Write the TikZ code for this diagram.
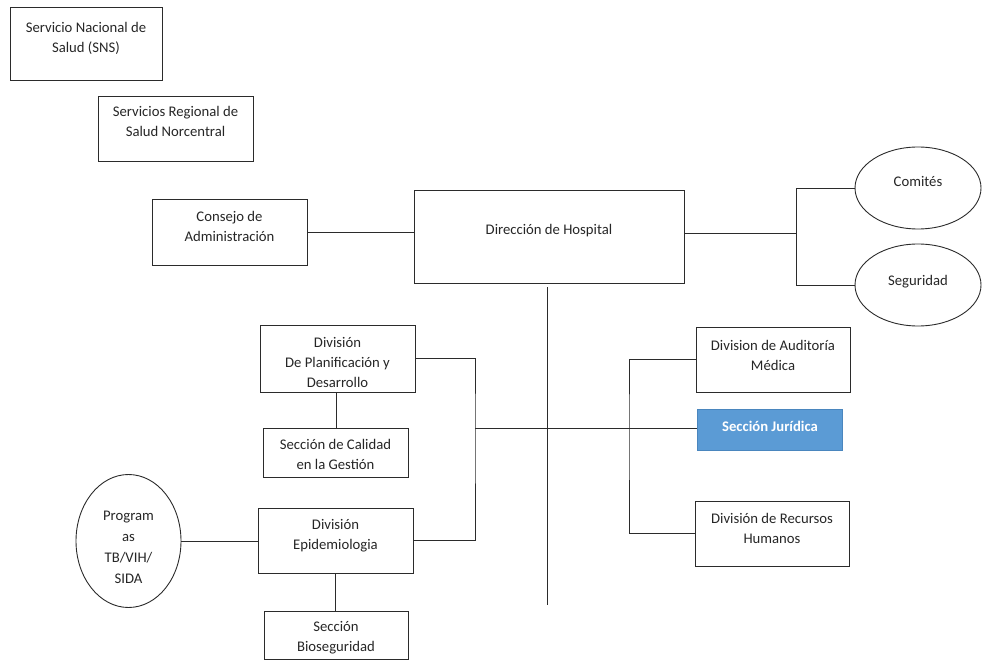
\documentclass[tikz,border=0pt]{standalone}
\usepackage{fontspec}
\setmainfont{Carlito}
\usetikzlibrary{shapes.geometric}
\definecolor{jurfill}{HTML}{5B9BD5}
\definecolor{jurline}{HTML}{4A86BE}
\definecolor{ln}{HTML}{2B2B2B}
\tikzset{
  box/.style={draw=ln, line width=0.9pt, rectangle, inner sep=0pt},
  oval/.style={draw=ln, line width=0.9pt, ellipse, inner sep=0pt},
  txt/.style={align=center, inner sep=0pt, font=\fontsize{14.7}{20}\selectfont, text=black!85},
  conn/.style={draw=ln, line width=0.9pt},
}
\newcommand{\bx}[6]{% name, x1, y1, x2, y2, extra style
  \node[box, minimum width={(#4-#2)*1pt}, minimum height={(#5-#3)*1pt}, #6] (#1) at ({(#2+#4)/2},{(#3+#5)/2}) {};}
\begin{document}
\begin{tikzpicture}[x=1pt, y=-1pt]
\useasboundingbox (0,0) rectangle (982,660);
% boxes
\bx{sns}{10}{7}{162}{80}{}
\bx{reg}{98}{96}{253}{161}{}
\bx{con}{152}{199}{307}{265}{}
\bx{dir}{414}{190}{684}{283}{}
\bx{pla}{260}{325}{415}{392}{}
\bx{cal}{263}{428}{408}{477}{}
\bx{epi}{258}{508}{413}{573}{}
\bx{bio}{264}{611}{408}{659}{}
\bx{aud}{696}{327}{850}{392}{}
\bx{jur}{697}{409}{842}{450}{fill=jurfill, draw=jurline}
\bx{rrh}{695}{501}{849}{566}{}
% ellipses
\node[oval, minimum width=126pt, minimum height=82pt] (com) at (918,188) {};
\node[oval, minimum width=126pt, minimum height=82pt] (seg) at (918,285) {};
\node[oval, minimum width=105pt, minimum height=133pt] (prog) at (128.5,541) {};
% texts
\node[txt] (snst) at (86,38) {Servicio Nacional de\\Salud (SNS)};
\node[txt] (regt) at (175.5,121.5) {Servicios Regional de\\Salud Norcentral};
\node[txt] (cont) at (229.5,226.5) {Consejo de\\Administración};
\node[txt] (dirt) at (549,231) {Dirección de Hospital};
\node[txt] (plat) at (337.5,362) {División\\De Planificación y\\Desarrollo};
\node[txt] (calt) at (335.5,454.5) {Sección de Calidad\\en la Gestión};
\node[txt] (epit) at (335.5,536) {División\\Epidemiologia};
\node[txt] (biot) at (336,637.5) {Sección\\Bioseguridad};
\node[txt] (audt) at (773,355) {Division de Auditoría\\Médica};
\node[txt, text=white, font=\fontsize{14.7}{20}\selectfont\bfseries] (jurt) at (770,426) {Sección Jurídica};
\node[txt] (rrht) at (772,528.5) {División de Recursos\\Humanos};
\node[txt] (comt) at (918,181) {Comités};
\node[txt] (segt) at (918,282) {Seguridad};
\node[txt, font=\fontsize{14.7}{21}\selectfont] (progt) at (128.5,547) {Program\\as\\TB/VIH/\\SIDA};
% junction coordinates
\coordinate (jR) at (796,233);
\coordinate (vtop) at (547,287);
\coordinate (vbot) at (547,605);
\coordinate (lx) at (475,428);
\coordinate (rx) at (629,428);
% connectors
\draw[conn] (con.east) -- (dir.west |- con.east);
\draw[conn] (dir.east |- jR) -- (jR);
\draw[conn] (com.west) -| (jR);
\draw[conn] (seg.west) -| (jR);
\draw[conn] (vtop) -- (vbot);
\draw[conn] (pla.east) -| (lx) |- (epi.east);
\draw[conn] (lx) -- (jur.west |- lx);
\draw[conn] (aud.west) -| (rx) |- (rrh.west);
\draw[conn] (pla.south -| cal.north) ++(1,0) coordinate (pc) -- (pc |- cal.north);
\draw[conn] (epi.south) -- (epi.south |- bio.north);
\draw[conn] (prog.east) -- (epi.west |- prog.east);
\end{tikzpicture}
\end{document}
